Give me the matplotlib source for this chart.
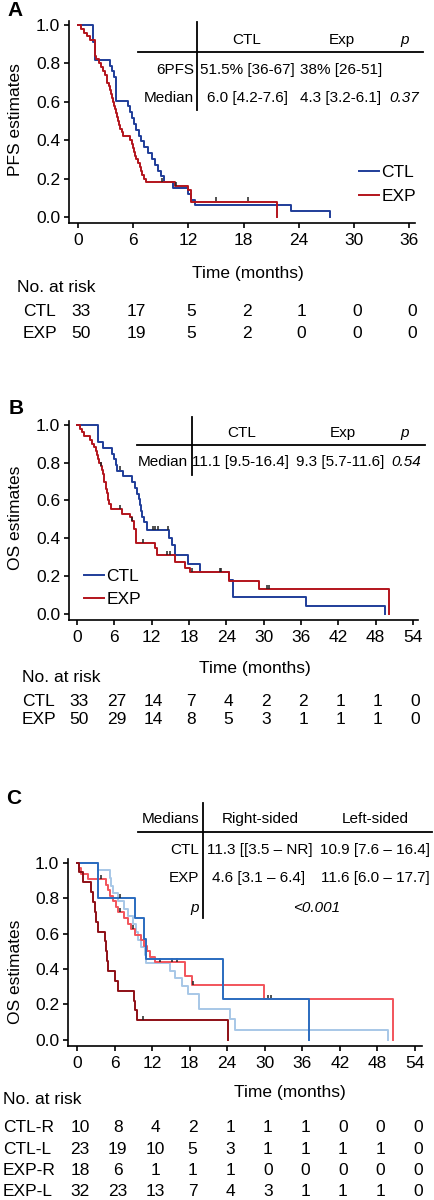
"""Kaplan-Meier panels A-C (PFS / OS) with median tables and numbers at risk."""

import matplotlib

matplotlib.use("Agg")
import matplotlib.pyplot as plt  # noqa: E402
from matplotlib.lines import Line2D  # noqa: E402
from matplotlib.transforms import blended_transform_factory, offset_copy  # noqa: E402

plt.rcParams["font.family"] = ["Liberation Sans", "DejaVu Sans"]

W, H = 434, 1200
OUTPUT_PATH = "out.png"

Y_TICKS = [0.0, 0.2, 0.4, 0.6, 0.8, 1.0]

# ---------------- panel A : PFS ----------------
A_X_TICKS = [0, 6, 12, 18, 24, 30, 36]
A_CTL_T = [0, 1.65, 1.85, 3.45, 3.7, 3.95, 4.15, 5.45, 5.6, 5.9, 6.1, 6.3, 6.6, 6.9,
           7.2, 7.6, 8.0, 8.4, 8.7, 9.0, 9.3, 10.3, 12.0, 12.3, 12.7, 23.2, 27.4]
A_CTL_S = [1.0, 0.909, 0.818, 0.788, 0.758, 0.727, 0.606, 0.576, 0.545, 0.515, 0.485,
           0.455, 0.424, 0.394, 0.364, 0.333, 0.303, 0.273, 0.242, 0.212, 0.182, 0.152,
           0.121, 0.091, 0.061, 0.030, 0.0]
A_EXP_T = [0, 0.35, 0.7, 1.0, 1.3, 1.9, 2.0, 2.3, 2.5, 2.7, 2.9, 3.1, 3.2, 3.35, 3.5,
           3.6, 3.75, 3.85, 3.95, 4.05, 4.15, 4.25, 4.35, 4.45, 4.6, 4.75, 4.9, 5.7,
           5.9, 6.0, 6.1, 6.25, 6.35, 6.5, 6.7, 6.85, 7.0, 7.2, 7.4, 10.5, 12.0, 12.3,
           21.6]
A_EXP_S = [1.0, 0.98, 0.96, 0.94, 0.92, 0.84, 0.82, 0.80, 0.78, 0.76, 0.74, 0.72, 0.70,
           0.68, 0.66, 0.64, 0.62, 0.60, 0.58, 0.56, 0.54, 0.52, 0.50, 0.48, 0.46, 0.44,
           0.42, 0.40, 0.38, 0.36, 0.34, 0.32, 0.30, 0.28, 0.26, 0.24, 0.22, 0.20, 0.18,
           0.16, 0.14, 0.08, 0.0]
A_CTL_CENS_T, A_CTL_CENS_S = [], []
A_EXP_CENS_T = [9.1, 10.7, 15.0, 18.5]
A_EXP_CENS_S = [0.18, 0.16, 0.08, 0.08]
A_RISK_CTL = [33, 17, 5, 2, 1, 0, 0]
A_RISK_EXP = [50, 19, 5, 2, 0, 0, 0]

# ---------------- panel B : OS ----------------
BC_X_TICKS = [0, 6, 12, 18, 24, 30, 36, 42, 48, 54]
B_CTL_T = [0, 3.4, 4.1, 5.6, 5.9, 6.2, 6.5, 7.4, 8.8, 9.3, 9.6, 9.9, 10.1, 10.3, 10.5,
           10.8, 11.2, 14.8, 15.3, 15.8, 17.9, 19.8, 24.5, 25.1, 36.8, 49.5]
B_CTL_S = [1.0, 0.909, 0.879, 0.848, 0.818, 0.788, 0.758, 0.727, 0.697, 0.667, 0.636,
           0.606, 0.576, 0.545, 0.515, 0.485, 0.442, 0.402, 0.362, 0.309, 0.265, 0.221,
           0.177, 0.088, 0.044, 0.0]
B_EXP_T = [0, 0.4, 0.8, 1.2, 2.1, 2.4, 2.7, 3.0, 3.2, 3.4, 3.6, 3.8, 4.0, 4.2, 4.3, 4.4,
           4.6, 4.7, 4.8, 4.9, 5.0, 5.2, 5.5, 7.2, 8.5, 8.9, 9.1, 9.4, 12.5, 12.8, 15.7,
           17.4, 18.2, 24.4, 29.3, 50.2]
B_EXP_S = [1.0, 0.98, 0.96, 0.94, 0.92, 0.90, 0.88, 0.86, 0.84, 0.82, 0.80, 0.78, 0.76,
           0.74, 0.72, 0.70, 0.68, 0.66, 0.64, 0.62, 0.60, 0.58, 0.555, 0.53, 0.51, 0.49,
           0.45, 0.375, 0.347, 0.309, 0.272, 0.245, 0.221, 0.176, 0.132, 0.0]
B_CTL_CENS_T = [6.9, 12.2, 12.6, 13.0, 14.7]
B_CTL_CENS_S = [0.758, 0.442, 0.442, 0.442, 0.442]
B_EXP_CENS_T = [3.9, 6.9, 8.9, 10.6, 14.4, 14.9, 18.5, 22.9, 23.1, 30.5, 30.8]
B_EXP_CENS_S = [0.78, 0.555, 0.49, 0.375, 0.309, 0.309, 0.221, 0.221, 0.221, 0.132, 0.132]
B_RISK_CTL = [33, 27, 14, 7, 4, 2, 2, 1, 1, 0]
B_RISK_EXP = [50, 29, 14, 8, 5, 3, 1, 1, 1, 0]

# ---------------- panel C : OS by sidedness ----------------
C_CTLR_T = [0, 3.4, 9.3, 10.7, 11.1, 23.3, 37.1]
C_CTLR_S = [1.0, 0.8, 0.686, 0.571, 0.457, 0.229, 0.0]
C_CTLL_T = [0, 3.4, 5.3, 5.5, 5.8, 6.5, 7.5, 8.2, 9.0, 9.4, 9.8, 10.2, 10.9, 11.1, 14.9,
            15.6, 16.8, 17.8, 19.5, 24.4, 25.2, 49.7]
C_CTLL_S = [1.0, 0.957, 0.913, 0.870, 0.826, 0.783, 0.739, 0.696, 0.652, 0.609, 0.565,
            0.522, 0.478, 0.435, 0.391, 0.348, 0.304, 0.261, 0.174, 0.116, 0.058, 0.0]
C_EXPR_T = [0, 0.3, 0.9, 2.2, 2.5, 2.8, 3.1, 3.4, 4.4, 4.6, 4.8, 5.0, 6.1, 6.6, 9.1, 9.3,
            9.6, 24.1]
C_EXPR_S = [1.0, 0.944, 0.889, 0.833, 0.778, 0.722, 0.667, 0.611, 0.556, 0.5, 0.444,
            0.389, 0.333, 0.278, 0.222, 0.167, 0.111, 0.0]
C_EXPL_T = [0, 0.3, 0.7, 1.8, 4.7, 4.9, 5.3, 5.8, 6.3, 6.6, 7.5, 8.2, 8.7, 9.2, 10.3,
            10.7, 11.2, 11.6, 12.5, 17.3, 18.3, 29.8, 50.5]
C_EXPL_S = [1.0, 0.969, 0.938, 0.906, 0.875, 0.844, 0.813, 0.781, 0.75, 0.719, 0.688,
            0.656, 0.625, 0.594, 0.562, 0.531, 0.5, 0.469, 0.437, 0.36, 0.31, 0.23, 0.0]
C_CTLR_CENS_T, C_CTLR_CENS_S = [6.8], [0.8]
C_CTLL_CENS_T, C_CTLL_CENS_S = [], []
C_EXPR_CENS_T, C_EXPR_CENS_S = [10.5], [0.111]
C_EXPL_CENS_T = [3.8, 6.8, 9.0, 13.3, 15.1, 15.9, 18.5, 23.3, 30.5, 31.0]
C_EXPL_CENS_S = [0.906, 0.719, 0.625, 0.437, 0.437, 0.437, 0.31, 0.31, 0.23, 0.23]
C_RISK_LABELS = ["CTL-R", "CTL-L", "EXP-R", "EXP-L"]
C_RISK = [
    [10, 8, 4, 2, 1, 1, 1, 0, 0, 0],
    [23, 19, 10, 5, 3, 1, 1, 1, 1, 0],
    [18, 6, 1, 1, 1, 0, 0, 0, 0, 0],
    [32, 23, 13, 7, 4, 3, 1, 1, 1, 0],
]

BLUE = "#1f3d99"
RED = "#b3141c"
C_COLORS = ["#2a6bbf", "#a7c7e7", "#8e0f16", "#f2545b"]

FS = 12.5
TFS = 11


def fx(px):
    return px / W


def fy(py):
    return 1 - py / H


fig = plt.figure(figsize=(W / 100, H / 100), dpi=100)


def text(x, y, s, **kw):
    kw.setdefault("va", "center")
    kw.setdefault("fontsize", TFS)
    fig.text(fx(x), fy(y), s, **kw)


def rule(x0, y0, x1, y1):
    fig.add_artist(Line2D([fx(x0), fx(x1)], [fy(y0), fy(y1)],
                          transform=fig.transFigure, color="black", lw=1.3))


def make_axes(left, right, top, bottom, xlim, ylim, xticks):
    ax = fig.add_axes([fx(left), fy(bottom), (right - left) / W, (bottom - top) / H])
    ax.set_xlim(*xlim)
    ax.set_ylim(*ylim)
    ax.set_xticks(xticks)
    ax.set_xticklabels([str(t) for t in xticks])
    ax.set_yticks(Y_TICKS)
    ax.set_yticklabels([f"{v:.1f}" for v in Y_TICKS])
    for side in ("top", "right"):
        ax.spines[side].set_visible(False)
    for side in ("left", "bottom"):
        ax.spines[side].set_linewidth(1.2)
    ax.tick_params(labelsize=FS, length=3.8, width=1.2, direction="out")
    ax.tick_params(axis="x", pad=3.5)
    ax.tick_params(axis="y", pad=2.5)
    return ax


def km(ax, t, s, ct, cs, color, label=None):
    ax.step(t, s, where="post", color=color, lw=1.4, label=label)
    if ct:
        # short censor strokes sitting on top of the curve
        ax.plot(ct, [v + 0.013 for v in cs], ls="none", marker="|", ms=3.2,
                mew=1.1, color="#222222")


def risk_row(ax, ticks, values, y, dx=3):
    trans = offset_copy(blended_transform_factory(ax.transData, fig.transFigure),
                        fig=fig, x=dx, y=0, units="dots")
    for t, n in zip(ticks, values):
        ax.text(t, fy(y), str(n), transform=trans, ha="center", va="center",
                fontsize=FS)


def legend(ax, x, y, spacing):
    ax.legend(loc="upper left", bbox_to_anchor=(fx(x), fy(y)),
              bbox_transform=fig.transFigure, frameon=False, fontsize=FS,
              handlelength=1.15, handletextpad=0.15, borderpad=0,
              borderaxespad=0, labelspacing=spacing)


# ---- A ----
axA = make_axes(69, 415, 21, 223, (-0.98, 36.65), (-0.031, 1.02), A_X_TICKS)
km(axA, A_CTL_T, A_CTL_S, A_CTL_CENS_T, A_CTL_CENS_S, BLUE, "CTL")
km(axA, A_EXP_T, A_EXP_S, A_EXP_CENS_T, A_EXP_CENS_S, RED, "EXP")
legend(axA, 359, 165, 0.5)
text(7, 11, "A", fontsize=15, fontweight="bold")
text(15, 120, "PFS estimates", fontsize=FS, rotation=90, ha="center")
text(248, 274, "Time (months)", fontsize=FS, ha="center")

rule(138, 52, 423, 52)
rule(197, 22, 197, 110)
text(247, 40, "CTL", ha="center")
text(342, 40, "Exp", ha="center")
text(405, 40, "p", ha="center", style="italic")
text(194, 70, "6PFS", ha="right")
text(247, 70, "51.5% [36-67]", ha="center")
text(341, 70, "38% [26-51]", ha="center")
text(194, 98, "Median", ha="right")
text(247, 98, "6.0 [4.2-7.6]", ha="center")
text(341, 98, "4.3 [3.2-6.1]", ha="center")
text(404, 98, "0.37", ha="center", style="italic")

text(17, 287, "No. at risk", fontsize=FS)
text(23, 312, "CTL", fontsize=FS)
text(23, 333, "EXP", fontsize=FS)
risk_row(axA, A_X_TICKS, A_RISK_CTL, 312)
risk_row(axA, A_X_TICKS, A_RISK_EXP, 333)

# ---- B ----
axB = make_axes(69, 418, 421, 620, (-1.29, 54.8), (-0.032, 1.02), BC_X_TICKS)
km(axB, B_CTL_T, B_CTL_S, B_CTL_CENS_T, B_CTL_CENS_S, BLUE, "CTL")
km(axB, B_EXP_T, B_EXP_S, B_EXP_CENS_T, B_EXP_CENS_S, RED, "EXP")
legend(axB, 84, 569, 0.45)
text(9, 408, "B", fontsize=15, fontweight="bold")
text(15, 518, "OS estimates", fontsize=FS, rotation=90, ha="center")
text(255, 668, "Time (months)", fontsize=FS, ha="center")

rule(137, 445, 425, 445)
rule(192, 417, 192, 475)
text(242, 433, "CTL", ha="center")
text(343, 433, "Exp", ha="center")
text(405, 433, "p", ha="center", style="italic")
text(188, 462, "Median", ha="right")
text(240, 462, "11.1 [9.5-16.4]", ha="center")
text(340, 462, "9.3 [5.7-11.6]", ha="center")
text(406, 462, "0.54", ha="center", style="italic")

text(22, 678, "No. at risk", fontsize=FS)
text(22, 702, "CTL", fontsize=FS)
text(22, 719, "EXP", fontsize=FS)
risk_row(axB, BC_X_TICKS, B_RISK_CTL, 702, dx=2)
risk_row(axB, BC_X_TICKS, B_RISK_EXP, 719, dx=2)

# ---- C ----
axC = make_axes(68, 422, 859, 1046, (-1.44, 55.12), (-0.034, 1.02), BC_X_TICKS)
km(axC, C_CTLL_T, C_CTLL_S, C_CTLL_CENS_T, C_CTLL_CENS_S, C_COLORS[1])
km(axC, C_EXPL_T, C_EXPL_S, C_EXPL_CENS_T, C_EXPL_CENS_S, C_COLORS[3])
km(axC, C_CTLR_T, C_CTLR_S, C_CTLR_CENS_T, C_CTLR_CENS_S, C_COLORS[0])
km(axC, C_EXPR_T, C_EXPR_S, C_EXPR_CENS_T, C_EXPR_CENS_S, C_COLORS[2])
text(6, 798, "C", fontsize=15, fontweight="bold")
text(15, 972, "OS estimates", fontsize=FS, rotation=90, ha="center")
text(290, 1093, "Time (months)", fontsize=FS, ha="center")

rule(138, 832, 432, 832)
rule(203, 803, 203, 918)
text(199, 819, "Medians", ha="right")
text(260, 819, "Right-sided", ha="center")
text(375, 819, "Left-sided", ha="center")
text(199, 850, "CTL", ha="right")
text(260, 850, "11.3 [[3.5 – NR]", ha="center")
text(375, 850, "10.9 [7.6 – 16.4]", ha="center")
text(199, 878, "EXP", ha="right")
text(259, 878, "4.6 [3.1 – 6.4]", ha="center")
text(375, 878, "11.6 [6.0 – 17.7]", ha="center")
text(199, 908, "p", ha="right", style="italic")
text(317, 908, "<0.001", ha="center", style="italic")

text(3, 1100, "No. at risk", fontsize=FS)
for i, (lab, row) in enumerate(zip(C_RISK_LABELS, C_RISK)):
    y = 1128 + i * 21.3
    text(3, y, lab, fontsize=FS)
    risk_row(axC, BC_X_TICKS, row, y)

fig.savefig(OUTPUT_PATH, dpi=100)
plt.close(fig)
